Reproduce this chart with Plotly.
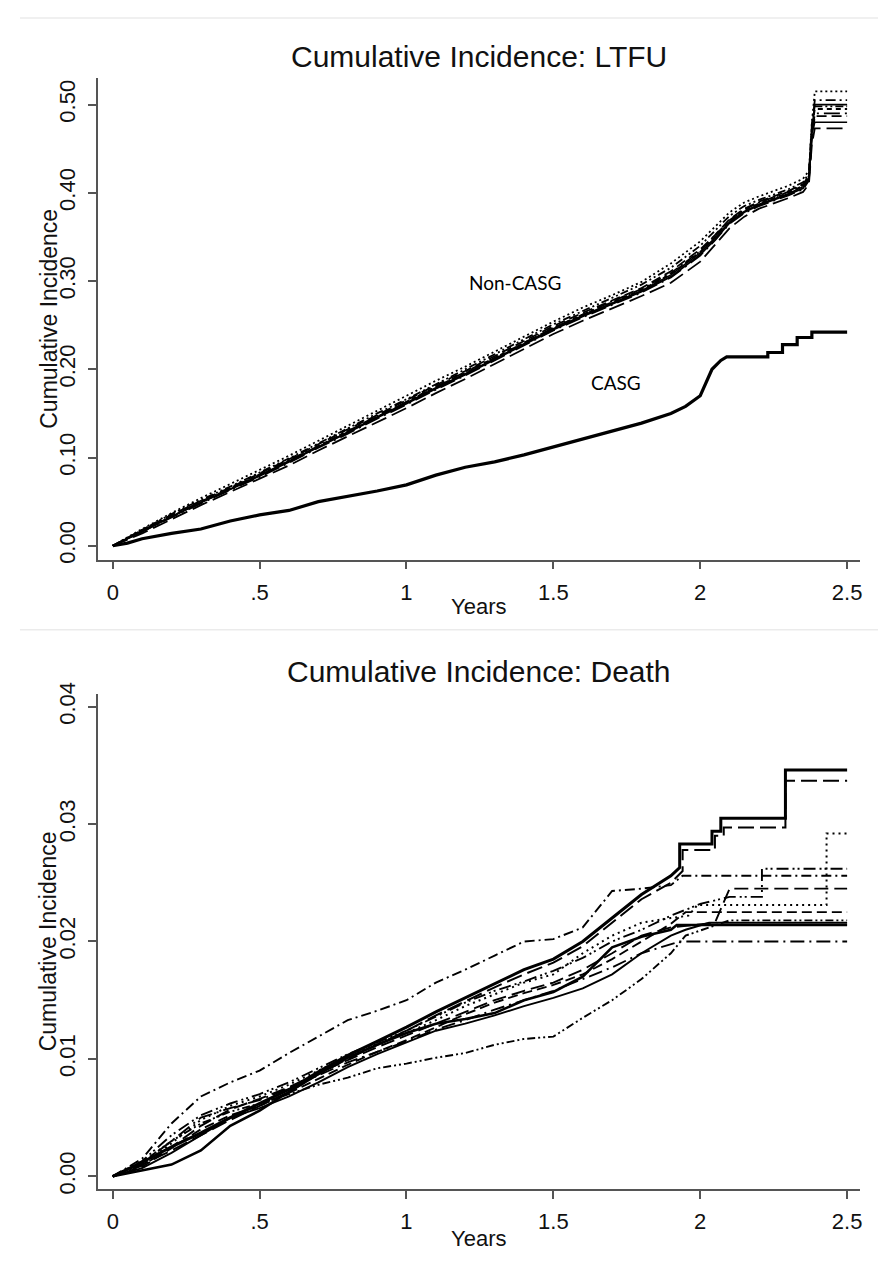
import plotly.graph_objects as go

FONT = "Liberation Sans, Arial, sans-serif"

# ---------------- Panel 1: LTFU ----------------
ltfu_years = [0, 0.1, 0.2, 0.3, 0.4, 0.5, 0.6, 0.7, 0.8, 0.9, 1.0, 1.1, 1.2, 1.3, 1.4, 1.5,
              1.6, 1.7, 1.8, 1.9, 2.0, 2.05, 2.1, 2.15, 2.2, 2.25, 2.3, 2.35, 2.37, 2.38, 2.39, 2.45, 2.5]

noncasg_1 = [0, 0.016, 0.033, 0.049, 0.064, 0.079, 0.095, 0.112, 0.128, 0.145, 0.161, 0.178, 0.194, 0.211, 0.228, 0.245,
             0.260, 0.274, 0.288, 0.305, 0.330, 0.347, 0.366, 0.378, 0.386, 0.392, 0.398, 0.405, 0.415, 0.470, 0.500, 0.500, 0.500]
noncasg_2 = [0, 0.018, 0.035, 0.051, 0.066, 0.082, 0.098, 0.115, 0.132, 0.148, 0.165, 0.182, 0.198, 0.215, 0.232, 0.249,
             0.264, 0.278, 0.292, 0.311, 0.336, 0.352, 0.370, 0.382, 0.390, 0.396, 0.402, 0.410, 0.418, 0.460, 0.487, 0.487, 0.487]
noncasg_3 = [0, 0.019, 0.037, 0.054, 0.070, 0.086, 0.102, 0.119, 0.136, 0.153, 0.170, 0.187, 0.203, 0.220, 0.237, 0.254,
             0.270, 0.284, 0.299, 0.320, 0.345, 0.362, 0.378, 0.389, 0.396, 0.402, 0.408, 0.416, 0.425, 0.480, 0.515, 0.515, 0.515]
noncasg_4 = [0, 0.017, 0.034, 0.050, 0.065, 0.081, 0.097, 0.113, 0.130, 0.147, 0.163, 0.180, 0.197, 0.213, 0.230, 0.247,
             0.262, 0.277, 0.291, 0.309, 0.334, 0.351, 0.369, 0.381, 0.389, 0.395, 0.401, 0.409, 0.420, 0.475, 0.505, 0.505, 0.505]
noncasg_5 = [0, 0.014, 0.030, 0.046, 0.061, 0.076, 0.091, 0.108, 0.124, 0.140, 0.156, 0.173, 0.189, 0.206, 0.223, 0.240,
             0.255, 0.269, 0.283, 0.298, 0.322, 0.341, 0.360, 0.373, 0.382, 0.388, 0.394, 0.401, 0.410, 0.455, 0.473, 0.473, 0.473]
noncasg_6 = [0, 0.016, 0.032, 0.048, 0.063, 0.078, 0.094, 0.111, 0.127, 0.144, 0.160, 0.177, 0.193, 0.210, 0.227, 0.244,
             0.259, 0.273, 0.287, 0.304, 0.329, 0.346, 0.365, 0.377, 0.385, 0.391, 0.397, 0.404, 0.414, 0.465, 0.490, 0.490, 0.490]
noncasg_7 = [0, 0.018, 0.036, 0.052, 0.067, 0.083, 0.099, 0.116, 0.133, 0.150, 0.166, 0.183, 0.200, 0.217, 0.234, 0.251,
             0.266, 0.281, 0.296, 0.315, 0.340, 0.357, 0.374, 0.385, 0.392, 0.398, 0.404, 0.412, 0.422, 0.478, 0.498, 0.498, 0.498]
noncasg_8 = [0, 0.017, 0.033, 0.049, 0.064, 0.080, 0.096, 0.112, 0.129, 0.146, 0.162, 0.179, 0.195, 0.212, 0.229, 0.246,
             0.261, 0.275, 0.289, 0.307, 0.332, 0.349, 0.367, 0.379, 0.387, 0.393, 0.399, 0.407, 0.417, 0.468, 0.480, 0.480, 0.480]
noncasg_9 = [0, 0.016, 0.033, 0.050, 0.065, 0.080, 0.096, 0.113, 0.130, 0.146, 0.163, 0.180, 0.196, 0.213, 0.230, 0.247,
             0.262, 0.276, 0.290, 0.308, 0.333, 0.350, 0.368, 0.380, 0.388, 0.394, 0.400, 0.408, 0.419, 0.472, 0.495, 0.495, 0.495]

casg_years = [0, 0.05, 0.1, 0.2, 0.3, 0.4, 0.5, 0.6, 0.7, 0.8, 0.9, 1.0, 1.1, 1.2, 1.3, 1.4, 1.5, 1.6, 1.7, 1.8, 1.9,
              1.95, 2.0, 2.02, 2.04, 2.07, 2.09, 2.23, 2.23, 2.28, 2.28, 2.33, 2.33, 2.38, 2.38, 2.5]
casg_vals = [0, 0.003, 0.008, 0.014, 0.019, 0.028, 0.035, 0.040, 0.050, 0.056, 0.062, 0.069, 0.080, 0.089, 0.095, 0.103,
             0.112, 0.121, 0.130, 0.139, 0.150, 0.158, 0.170, 0.185, 0.200, 0.210, 0.214, 0.214, 0.219, 0.219, 0.228,
             0.228, 0.236, 0.236, 0.242, 0.242]

# ---------------- Panel 2: Death ----------------
death_years = [0, 0.1, 0.2, 0.3, 0.4, 0.5, 0.6, 0.7, 0.8, 0.9, 1.0, 1.1, 1.2, 1.3, 1.4, 1.5, 1.6, 1.7, 1.8, 1.9]

death_a = [0, .0012, .0025, .0037, .0050, .0062, .0074, .0089, .0103, .0115, .0127, .0140, .0152, .0164, .0176, .0185, .0200, .0220, .0240, .0256]
death_a_late_t = [1.93, 1.93, 2.04, 2.04, 2.07, 2.07, 2.29, 2.29, 2.5]
death_a_late_v = [.0263, .0283, .0283, .0294, .0294, .0305, .0305, .0346, .0346]

death_b = [0, .0010, .0022, .0035, .0048, .0060, .0072, .0087, .0100, .0112, .0124, .0137, .0149, .0161, .0172, .0182, .0196, .0216, .0236, .0250]
death_b_late_t = [1.94, 1.94, 2.05, 2.05, 2.08, 2.08, 2.29, 2.29, 2.5]
death_b_late_v = [.0260, .0278, .0278, .0290, .0290, .0297, .0297, .0337, .0337]

death_c = [0, .0015, .0045, .0068, .0080, .0090, .0105, .0119, .0133, .0141, .0150, .0165, .0176, .0188, .0200, .0202, .0212, .0243, .0245, .0248]
death_c_late_t = [1.94, 2.5]
death_c_late_v = [.0256, .0256]

death_d = [0, .0005, .0010, .0022, .0043, .0056, .0072, .0087, .0101, .0112, .0122, .0130, .0134, .0139, .0150, .0157, .0170, .0195, .0204, .0210]
death_d_late_t = [1.92, 2.5]
death_d_late_v = [.0214, .0214]

death_e = [0, .0012, .0030, .0045, .0055, .0062, .0070, .0078, .0084, .0092, .0096, .0101, .0105, .0112, .0117, .0119, .0135, .0150, .0168, .0190]
death_e_late_t = [1.95, 2.1, 2.5]
death_e_late_v = [.0205, .0218, .0218]

death_f = [0, .0010, .0028, .0048, .0060, .0068, .0078, .0090, .0102, .0113, .0122, .0133, .0145, .0155, .0165, .0172, .0190, .0205, .0216, .0220]
death_f_late_t = [1.96, 1.99, 2.43, 2.43, 2.5]
death_f_late_v = [.0222, .0231, .0231, .0292, .0292]

death_g = [0, .0013, .0035, .0052, .0062, .0070, .0080, .0092, .0104, .0114, .0124, .0136, .0148, .0158, .0166, .0175, .0186, .0200, .0210, .0222]
death_g_late_t = [2.0, 2.1, 2.21, 2.21, 2.5]
death_g_late_v = [.0232, .0238, .0238, .0262, .0262]

death_h = [0, .0009, .0025, .0043, .0057, .0066, .0076, .0088, .0099, .0110, .0120, .0130, .0140, .0150, .0158, .0165, .0176, .0190, .0205, .0212]
death_h_late_t = [2.05, 2.1, 2.5]
death_h_late_v = [.0216, .0245, .0245]

death_i = [0, .0011, .0030, .0050, .0058, .0065, .0075, .0086, .0097, .0106, .0115, .0125, .0133, .0142, .0150, .0158, .0168, .0178, .0190, .0198]
death_i_late_t = [1.93, 2.5]
death_i_late_v = [.0200, .0200]

death_j = [0, .0008, .0024, .0040, .0052, .0060, .0071, .0083, .0095, .0106, .0116, .0127, .0138, .0148, .0156, .0163, .0172, .0185, .0200, .0215]
death_j_late_t = [1.95, 2.5]
death_j_late_v = [.0225, .0225]

death_k = [0, .0007, .0020, .0035, .0050, .0058, .0068, .0080, .0093, .0104, .0114, .0124, .0130, .0137, .0145, .0152, .0160, .0172, .0190, .0205]
death_k_late_t = [1.95, 2.03, 2.5]
death_k_late_v = [.0210, .0216, .0216]

x_tickvals = [0, 0.5, 1, 1.5, 2, 2.5]
x_ticktext = ["0", ".5", "1", "1.5", "2", "2.5"]
ltfu_tickvals = [0, 0.1, 0.2, 0.3, 0.4, 0.5]
ltfu_ticktext = ["0.00", "0.10", "0.20", "0.30", "0.40", "0.50"]
death_tickvals = [0, 0.01, 0.02, 0.03, 0.04]
death_ticktext = ["0.00", "0.01", "0.02", "0.03", "0.04"]

fig = go.Figure()


def add_line(x, y, dash, width, xa, ya):
    fig.add_trace(go.Scatter(x=x, y=y, mode="lines", xaxis=xa, yaxis=ya,
                             line=dict(color="black", width=width, dash=dash),
                             showlegend=False, hoverinfo="skip"))


noncasg_series = [
    (noncasg_1, "solid", 1.8),
    (noncasg_2, "10px,5px", 1.8),
    (noncasg_3, "2px,3px", 1.8),
    (noncasg_4, "10px,4px,2px,4px", 1.8),
    (noncasg_5, "16px,6px", 1.8),
    (noncasg_6, "16px,5px,2px,5px", 1.8),
    (noncasg_7, "8px,3px,2px,3px,2px,3px", 1.8),
    (noncasg_8, "solid", 1.6),
    (noncasg_9, "5px,4px", 1.8),
]
for vals, dash, w in noncasg_series:
    add_line(ltfu_years, vals, dash, w, "x", "y")
add_line(casg_years, casg_vals, "solid", 3.2, "x", "y")

death_series = [
    (death_a, death_a_late_t, death_a_late_v, "solid", 3.0),
    (death_b, death_b_late_t, death_b_late_v, "16px,6px", 2.0),
    (death_c, death_c_late_t, death_c_late_v, "10px,4px,2px,4px", 1.9),
    (death_d, death_d_late_t, death_d_late_v, "solid", 2.6),
    (death_e, death_e_late_t, death_e_late_v, "8px,3px,2px,3px,2px,3px", 1.9),
    (death_f, death_f_late_t, death_f_late_v, "2px,4px", 2.0),
    (death_g, death_g_late_t, death_g_late_v, "12px,4px,2px,3px,2px,4px", 1.9),
    (death_h, death_h_late_t, death_h_late_v, "14px,6px", 1.9),
    (death_i, death_i_late_t, death_i_late_v, "14px,5px,2px,5px", 1.9),
    (death_j, death_j_late_t, death_j_late_v, "10px,5px", 1.9),
    (death_k, death_k_late_t, death_k_late_v, "solid", 1.9),
]
for early, lt, lv, dash, w in death_series:
    add_line(death_years + lt, early + lv, dash, w, "x2", "y2")

axis_common = dict(showline=True, linecolor="#555555", linewidth=1.5, ticks="outside",
                   ticklen=8, tickwidth=1.5, tickcolor="#555555", showgrid=False, zeroline=False,
                   tickfont=dict(family=FONT, size=22, color="#111111"))

xdom = [98 / 880, 862 / 880]
fig.update_layout(
    width=880, height=1275, margin=dict(l=0, r=0, t=0, b=0),
    paper_bgcolor="white", plot_bgcolor="white",
    xaxis=dict(domain=xdom, range=[-0.051, 2.544], anchor="y", tickvals=x_tickvals,
               ticktext=x_ticktext, ticklabelstandoff=4, **axis_common),
    yaxis=dict(domain=[1 - 555 / 1275, 1 - 67 / 1275], range=[-0.0157, 0.530], anchor="x",
               tickvals=ltfu_tickvals, ticktext=ltfu_ticktext, tickangle=-90,
               ticklabelstandoff=4, **axis_common),
    xaxis2=dict(domain=xdom, range=[-0.051, 2.544], anchor="y2", tickvals=x_tickvals,
                ticktext=x_ticktext, ticklabelstandoff=4, **axis_common),
    yaxis2=dict(domain=[1 - 1193 / 1275, 1 - 691 / 1275], range=[-0.00109, 0.0411], anchor="x2",
                tickvals=death_tickvals, ticktext=death_ticktext, tickangle=-90,
                ticklabelstandoff=4, **axis_common),
)


def px_ann(text, x, y, size, angle=0, family=FONT):
    fig.add_annotation(text=text, xref="paper", yref="paper", x=x / 880, y=1 - y / 1275,
                       xanchor="center", yanchor="middle", showarrow=False, textangle=angle,
                       font=dict(family=family, size=size, color="#111111"))


px_ann("Cumulative Incidence: LTFU", 480, 45, 30)
px_ann("Cumulative Incidence: Death", 480, 668, 30)
px_ann("Cumulative Incidence", 49, 311, 23, angle=-90)
px_ann("Cumulative Incidence", 49, 942, 23, angle=-90)
px_ann("Years", 480, 603, 22)
px_ann("Years", 480, 1243, 22)

fig.add_annotation(text="Non-CASG", x=1.37, y=0.298, xref="x", yref="y", showarrow=False,
                   xanchor="center", yanchor="middle",
                   font=dict(family="Lato, Open Sans, sans-serif", size=19, color="black"))
fig.add_annotation(text="CASG", x=1.713, y=0.185, xref="x", yref="y", showarrow=False,
                   xanchor="center", yanchor="middle",
                   font=dict(family="Lato, Open Sans, sans-serif", size=19, color="black"))

for ypx in [6, 626]:
    fig.add_shape(type="line", xref="paper", yref="paper", x0=20 / 880, x1=1,
                  y0=1 - ypx / 1275, y1=1 - ypx / 1275, line=dict(color="#ebebeb", width=1.5))

fig.write_html("out.html", post_script="document.body.style.margin='0';",
               config={"displayModeBar": False})
